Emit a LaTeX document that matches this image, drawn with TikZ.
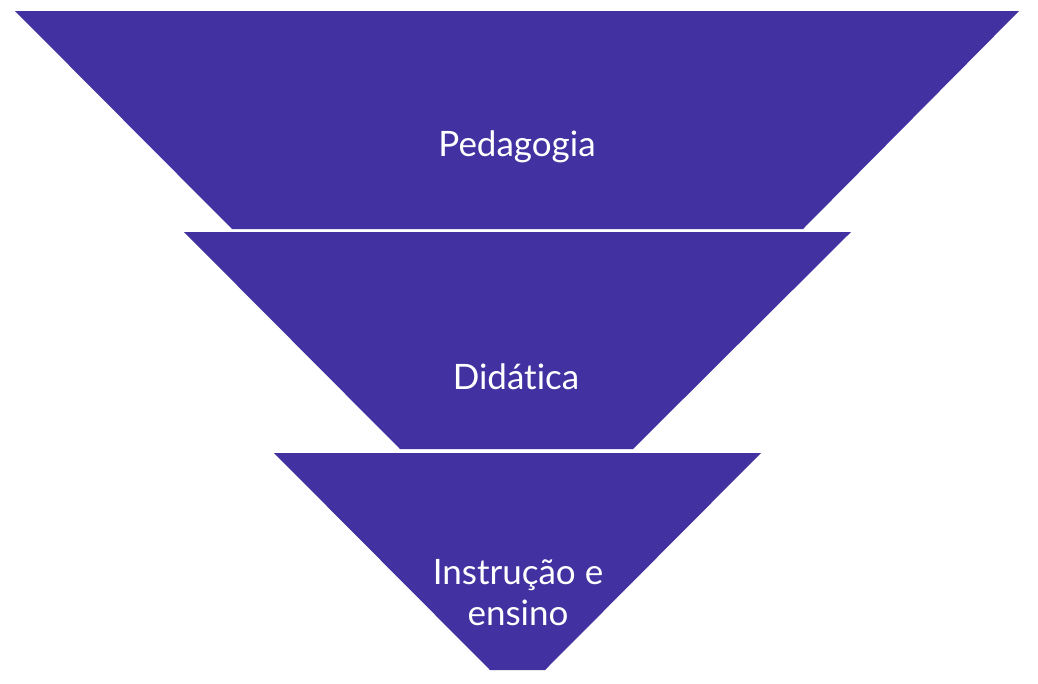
\documentclass[tikz,border=0pt]{standalone}
\usepackage{fontspec}
\setmainfont{Lato}[Ligatures=CommonOff]
\definecolor{funnel}{RGB}{66,49,160}
\usetikzlibrary{positioning}

\begin{document}
\begin{tikzpicture}[
  x=1pt, y=-1pt,
  layer/.style={fill=funnel, draw=none},
  lbl/.style={text=white, font=\fontsize{35}{41}\selectfont, align=center, inner sep=0pt}]

\useasboundingbox[fill=white] (0,0) rectangle (1038,683);

% ---- funnel layers ----
\fill[layer] (15,11) -- (1019,11) -- (803,229) -- (232,229) -- cycle;
\fill[layer] (184,232) -- (851,232) -- (633,449) -- (400,449) -- cycle;
\fill[layer] (274,453) -- (761,453) -- (545,670) -- (490,670) -- cycle;

% ---- labels ----
\node[lbl, anchor=base] (pedagogia) at (517,156) {Pedagogia};
\node[lbl, anchor=base] (didatica) at (516,389) {Didática};
\node[lbl, anchor=base] (instrucao) at (518,625) {Instrução e\\ensino};
\end{tikzpicture}
\end{document}
